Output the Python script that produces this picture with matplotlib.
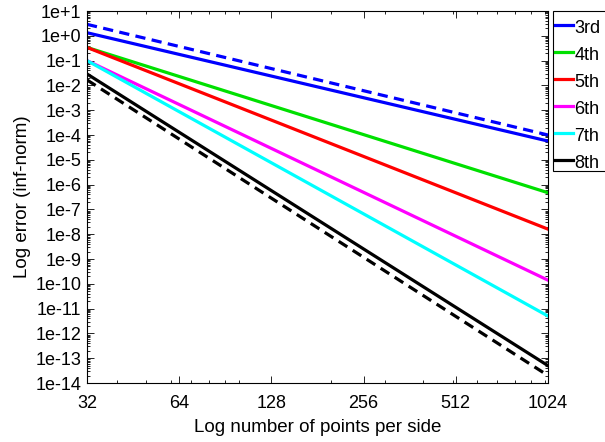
import matplotlib
matplotlib.use("Agg")
import matplotlib.pyplot as plt
from matplotlib.patches import Rectangle
from matplotlib.ticker import FixedLocator, FixedFormatter, LogLocator, NullFormatter

plt.rcParams['font.family'] = ['Liberation Sans', 'DejaVu Sans']

# Number of points per side (endpoints of each convergence line)
n_points = [32, 1024]

# Error in the infinity norm for each scheme order
err_3rd = [1.33, 5.7e-5]
err_4th = [0.34, 4.7e-7]
err_5th = [0.34, 1.6e-8]
err_6th = [0.10, 1.4e-10]
err_7th = [0.10, 5.0e-12]
err_8th = [0.029, 5.0e-14]

# Reference slopes
ref_3rd = [2.9, 1.0e-4]
ref_8th = [0.0166, 2.0e-14]

series_labels = ["3rd", "4th", "5th", "6th", "7th", "8th"]
series_colors = ["#0000ff", "#00e000", "#ff0000", "#ff00ff", "#00ffff", "#000000"]

x_ticks = [32, 64, 128, 256, 512, 1024]
x_tick_labels = ["32", "64", "128", "256", "512", "1024"]
y_exponents = list(range(-14, 2))
y_tick_labels = ["1e+1" if e == 1 else ("1e+0" if e == 0 else f"1e{e}") for e in y_exponents]

W, H = 605, 442
fig = plt.figure(figsize=(W / 100, H / 100), dpi=100)
ax = fig.add_axes([87 / W, 1 - 383 / H, (548 - 87) / W, (383 - 11) / H])

fs_tick = 13
fs_label = 13.5

lw = 2.3
handles = []
for vals, lab, col in zip([err_3rd, err_4th, err_5th, err_6th, err_7th, err_8th],
                          series_labels, series_colors):
    h, = ax.plot(n_points, vals, color=col, lw=lw, label=lab)
    handles.append(h)
ax.plot(n_points, ref_3rd, color="#0000ff", lw=lw, ls=(0, (3.2, 2.0)))
ax.plot(n_points, ref_8th, color="#000000", lw=lw, ls=(0, (3.2, 2.0)))

ax.set_xscale("log")
ax.set_yscale("log")
ax.set_xlim(32, 1024)
ax.set_ylim(1e-14, 1e1)

ax.xaxis.set_major_locator(FixedLocator(x_ticks))
ax.xaxis.set_major_formatter(FixedFormatter(x_tick_labels))
ax.xaxis.set_minor_locator(LogLocator(base=10, subs=range(1, 10)))
ax.xaxis.set_minor_formatter(NullFormatter())

ax.yaxis.set_major_locator(FixedLocator([10.0**e for e in y_exponents]))
ax.yaxis.set_major_formatter(FixedFormatter(y_tick_labels))
ax.yaxis.set_minor_locator(LogLocator(base=10, subs=range(2, 10), numticks=100))
ax.yaxis.set_minor_formatter(NullFormatter())

ax.tick_params(which="both", direction="in", top=True, right=True, labelsize=fs_tick,
               width=0.6, colors="black")
ax.tick_params(which="major", length=5)
ax.tick_params(which="minor", length=2.5)
ax.tick_params(axis="x", pad=9)
ax.tick_params(axis="y", pad=4)
for s in ax.spines.values():
    s.set_linewidth(0.8)

ax.set_xlabel("Log number of points per side", fontsize=fs_label, labelpad=5)
ax.set_ylabel("Log error (inf-norm)", fontsize=fs_label, labelpad=3)

# Legend box outside the axes, running off the right edge of the figure
fig.patches.append(Rectangle((553 / W, 1 - 171 / H), 80 / W, 160 / H,
                             transform=fig.transFigure, facecolor="white",
                             edgecolor="black", linewidth=0.8, zorder=1))
leg = fig.legend(handles=handles, loc="upper left",
                 bbox_to_anchor=(553 / W, 1 - 15 / H), fontsize=fs_tick,
                 frameon=False, handlelength=1.0, handleheight=1.33,
                 handletextpad=0.08, borderpad=0.1, borderaxespad=0,
                 labelspacing=0.39)
leg.set_zorder(2)

fig.savefig("out.png", dpi=100)
